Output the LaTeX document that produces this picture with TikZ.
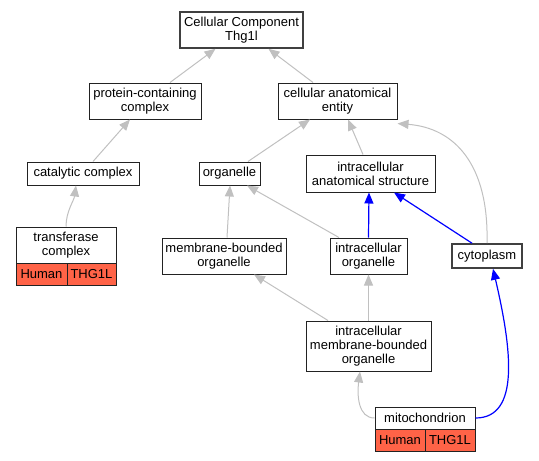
\documentclass[tikz,border=0pt]{standalone}
\usepackage{fontspec}
\setmainfont{Liberation Sans}
\usetikzlibrary{arrows.meta}
\definecolor{edgegray}{HTML}{C0C0C0}
\definecolor{cellred}{HTML}{FF6347}
\definecolor{boxline}{HTML}{222222}
\tikzset{
  box/.style={draw=boxline, line width=1pt, fill=white, inner sep=0pt, align=center,
    font=\fontsize{13}{14}\selectfont},
  thickbox/.style={box, line width=1.6pt, draw=black!75},
  cell/.style={box, fill=cellred},
  gedge/.style={draw=edgegray, line width=1pt, -{Triangle[length=11pt,width=9pt]}},
  bedge/.style={draw=blue, line width=1.2pt, -{Triangle[length=11pt,width=9pt]}}
}
\begin{document}
\begin{tikzpicture}[x=1pt,y=-1pt]
\useasboundingbox (0,0) rectangle (539,461);
% nodes
\node[thickbox, minimum width=123, minimum height=36] (cc) at (241.5,30) {Cellular Component\\Thg1l};
\node[box, minimum width=112, minimum height=36] (pcc) at (145,101) {protein-containing\\complex};
\node[box, minimum width=119, minimum height=36] (cae) at (337.5,101) {cellular anatomical\\entity};
\node[box, minimum width=112, minimum height=23] (cat) at (83,173.5) {catalytic complex};
\node[box, minimum width=61, minimum height=23] (org) at (229.5,173.5) {organelle};
\node[box, minimum width=129, minimum height=37] (ias) at (370.5,173.5) {intracellular\\anatomical structure};
\node[box, minimum width=100, minimum height=36] (tc) at (66,245) {transferase\\complex};
\node[cell, minimum width=51, minimum height=22] (tch) at (41.5,274) {Human};
\node[cell, minimum width=49, minimum height=22] (tcg) at (91.5,274) {THG1L};
\node[box, minimum width=124, minimum height=36] (mbo) at (224,256) {membrane-bounded\\organelle};
\node[box, minimum width=77, minimum height=36] (io) at (368.5,256) {intracellular\\organelle};
\node[thickbox, minimum width=70, minimum height=24] (cyt) at (487,256) {cytoplasm};
\node[box, minimum width=125, minimum height=50] (imbo) at (368.5,346) {intracellular\\membrane-bounded\\organelle};
\node[box, minimum width=100, minimum height=22] (mit) at (425,418) {mitochondrion};
\node[cell, minimum width=50, minimum height=22] (mith) at (400,440) {Human};
\node[cell, minimum width=50, minimum height=22] (mitg) at (450,440) {THG1L};
% edges
\draw[gedge] ([xshift=25pt]pcc.north) -- ([xshift=-26pt]cc.south);
\draw[gedge] ([xshift=-24.5pt]cae.north) -- ([xshift=27pt]cc.south);
\draw[gedge] ([xshift=10pt]cat.north) -- ([xshift=-15pt]pcc.south);
\draw[gedge] (tc.north) .. controls +(0,-15) and +(-2,15) .. ([xshift=-7pt]cat.south);
\draw[gedge] ([xshift=18.5pt]org.north) -- ([xshift=-27.5pt]cae.south);
\draw[gedge] ([xshift=-7.5pt]ias.north) -- ([xshift=10.5pt]cae.south);
\draw[gedge] (cyt.north) .. controls (489,165) and (455,128) .. ([yshift=-4pt]cae.south east);
\draw[gedge] ([xshift=3pt]mbo.north) -- ([xshift=0.5pt]org.south);
\draw[gedge] ([xshift=-29.5pt]io.north) -- ([xshift=17.5pt]org.south);
\draw[bedge] (io.north) -- ([xshift=-1.5pt]ias.south);
\draw[bedge] ([xshift=-15pt]cyt.north) -- ([xshift=23.5pt]ias.south);
\draw[gedge] ([xshift=-40.5pt]imbo.north) -- ([xshift=30pt]mbo.south);
\draw[gedge] (imbo.north) -- (io.south);
\draw[gedge] (mit.west) .. controls (358,418) and (357,395) .. ([xshift=-8.5pt]imbo.south);
\draw[bedge] (mit.east) .. controls (520,418) and (512,350) .. ([xshift=6pt]cyt.south);
\end{tikzpicture}
\end{document}
